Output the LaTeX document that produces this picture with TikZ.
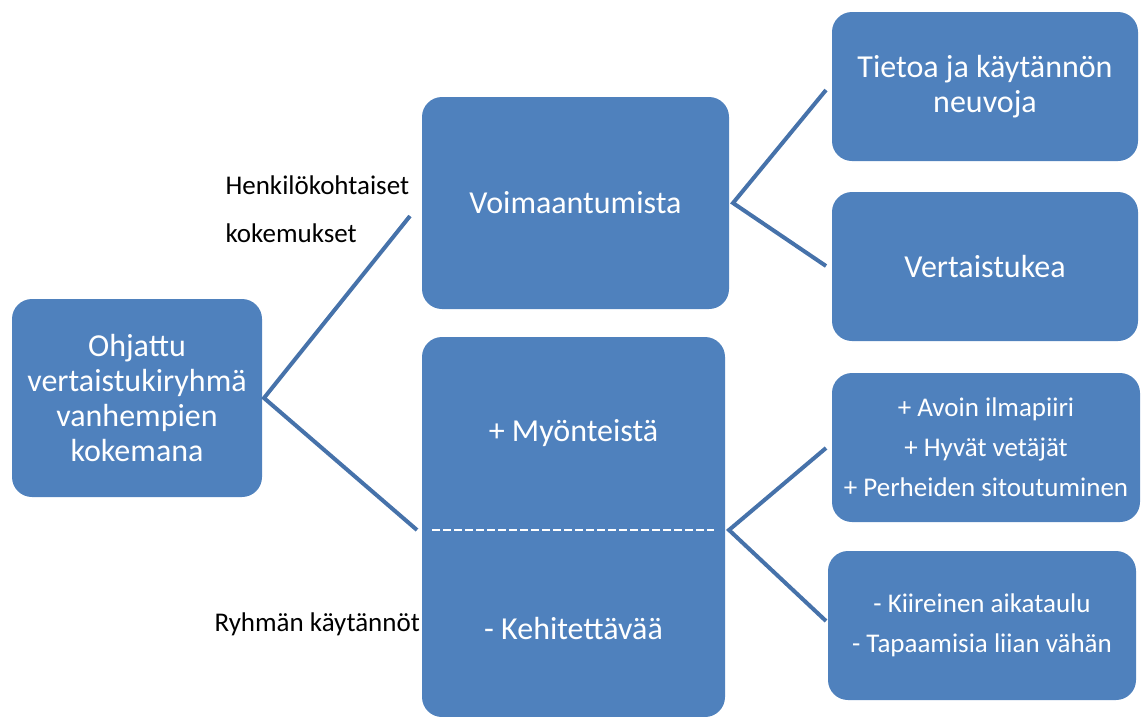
\documentclass[tikz,border=0pt]{standalone}
\usepackage{fontspec}
\setmainfont{Carlito}
\usetikzlibrary{positioning}
\definecolor{boxblue}{RGB}{79,129,189}
\definecolor{lineblue}{RGB}{70,114,170}
\tikzset{
  box/.style={rectangle, rounded corners=20pt, fill=boxblue, text=white,
    align=center, inner sep=0pt},
  bigtext/.style={font=\fontsize{32}{35}\selectfont},
  smalltext/.style={font=\fontsize{27}{40}\selectfont},
  link/.style={draw=lineblue, line width=4pt},
  label/.style={font=\fontsize{27}{48}\selectfont, anchor=west, align=left}
}
\begin{document}
\begin{tikzpicture}[x=1pt,y=-1pt]
            \useasboundingbox (0,0) rectangle (1142,716);

            % boxes
            \node[box, bigtext, minimum width=250pt, minimum height=198pt] (group) at (137,398)
                {Ohjattu\\vertaistukiryhmä\\vanhempien\\kokemana};
            \node[box, bigtext, minimum width=307pt, minimum height=212pt] (empower) at (575.5,203)
                {Voimaantumista};
            \node[box, minimum width=303pt, minimum height=380pt] (practice) at (573.5,527) {};
            \node[bigtext, text=white] (plus) at (573.5,433) {+ Myönteistä};
            \node[bigtext, text=white] (minus) at (573.5,628) {- Kehitettävää};
            \draw[white, line width=2pt, dash pattern=on 8pt off 3pt] (432,530) -- (714,530);

            \node[box, bigtext, minimum width=306pt, minimum height=149pt] (info) at (985,86.5)
                {Tietoa ja käytännön\\neuvoja};
            \node[box, bigtext, minimum width=306pt, minimum height=149pt] (peer) at (985,266.5)
                {Vertaistukea};
            \node[box, smalltext, minimum width=308pt, minimum height=149pt] (good) at (986,447.5)
                {+ Avoin ilmapiiri\\+ Hyvät vetäjät\\+ Perheiden sitoutuminen};
            \node[box, smalltext, minimum width=308pt, minimum height=149pt] (bad) at (982,625.5)
                {- Kiireinen aikataulu\\- Tapaamisia liian vähän};

            % connectors
            \coordinate (g) at (264,398);
            \coordinate (e) at (410,216);
            \coordinate (p) at (417,530);
            \coordinate (e1) at (733,203);
            \coordinate (i) at (826,90);
            \coordinate (v) at (826,266);
            \coordinate (p1) at (729,530);
            \coordinate (gd) at (826,448);
            \coordinate (bd) at (826,621);
            \draw[link] (e) -- (g) -- (p);
            \draw[link] (i) -- (e1) -- (v);
            \draw[link] (gd) -- (p1) -- (bd);

            % labels
            \node[label] (personal) at (222,209) {Henkilökohtaiset\\kokemukset};
            \node[label] (rules) at (211,624) {Ryhmän käytännöt};
             \end{tikzpicture}
\end{document}
